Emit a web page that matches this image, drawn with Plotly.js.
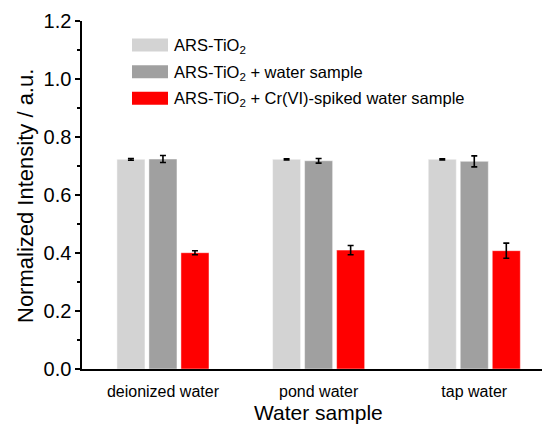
<!DOCTYPE html>
<html>
<head>
<meta charset="utf-8">
<script src="https://cdn.plot.ly/plotly-3.0.1.min.js"></script>
<style>html,body{margin:0;padding:0;background:#fff;}#chart{width:542px;height:429px;}</style>
</head>
<body>
<div id="chart"></div>
<script>
const categories = ['deionized water', 'pond water', 'tap water'];
const seriesNames = ['ARS-TiO<sub>2</sub>', 'ARS-TiO<sub>2</sub> + water sample', 'ARS-TiO<sub>2</sub> + Cr(VI)-spiked water sample'];
const arsTiO2 = [0.723, 0.723, 0.723];
const arsTiO2Err = [0.003, 0.002, 0.002];
const waterSample = [0.724, 0.718, 0.716];
const waterSampleErr = [0.012, 0.008, 0.019];
const spikedSample = [0.401, 0.410, 0.408];
const spikedSampleErr = [0.007, 0.016, 0.026];
const colors = ['#d3d3d3', '#a0a0a0', '#ff0000'];
const yTickVals = [0, 0.2, 0.4, 0.6, 0.8, 1.0, 1.2];

const FONT = 'Arial, "Liberation Sans", sans-serif';
const values = [arsTiO2, waterSample, spikedSample];
const errs = [arsTiO2Err, waterSampleErr, spikedSampleErr];

const traces = values.map((v, i) => ({
  type: 'bar',
  x: categories,
  y: v,
  name: seriesNames[i],
  marker: {color: colors[i], line: {color: 'rgba(255,255,255,0.45)', width: 1}},
  error_y: {type: 'data', array: errs[i], visible: true, color: '#000', thickness: 1.6, width: 3},
  showlegend: false
}));

const L = 82, W = 460, B = 369, H = 348;
const px = x => (x - L) / W;
const py = y => (B - y) / H;
const rowY = [45, 71.7, 98.3];

const shapes = rowY.map((r, i) => ({
  type: 'rect', xref: 'paper', yref: 'paper',
  x0: px(132), x1: px(168), y0: py(r + 6.5), y1: py(r - 6.5),
  fillcolor: colors[i], line: {width: 0}
}));

const annotations = rowY.map((r, i) => ({
  xref: 'paper', yref: 'paper', x: px(172), y: py(r + 1), xanchor: 'left', yanchor: 'middle',
  text: seriesNames[i], showarrow: false, font: {family: FONT, size: 16.5, color: '#000'}
}));
annotations.push({
  xref: 'x', yref: 'paper', x: 1, y: py(412), xanchor: 'center', yanchor: 'middle',
  text: 'Water sample', showarrow: false, font: {family: FONT, size: 21, color: '#000'}
});
annotations.push({
  xref: 'paper', yref: 'paper', x: px(25), y: py(196), xanchor: 'center', yanchor: 'middle', textangle: -90,
  text: 'Normalized Intensity / a.u.', showarrow: false, font: {family: FONT, size: 22, color: '#000'}
});

const layout = {
  width: 542, height: 429,
  margin: {l: 82, r: 0, t: 21, b: 60},
  paper_bgcolor: '#fff', plot_bgcolor: '#fff',
  barmode: 'group', bargap: 0.383, bargroupgap: 0.124,
  font: {family: FONT, color: '#000'},
  xaxis: {
    range: [-0.52, 2.435], showline: true, linecolor: '#000', linewidth: 1.6,
    ticks: '', showgrid: false, zeroline: false, ticklabelstandoff: 7,
    tickfont: {family: FONT, size: 16, color: '#000'}
  },
  yaxis: {
    range: [0, 1.2], showline: true, linecolor: '#000', linewidth: 1.6,
    ticks: 'outside', ticklen: 5, tickwidth: 1.6, tickcolor: '#000',
    tickvals: yTickVals, ticktext: yTickVals.map(v => v.toFixed(1)),
    minor: {dtick: 0.1, ticks: 'outside', ticklen: 3, tickwidth: 1.6, tickcolor: '#000', showgrid: false},
    showgrid: false, zeroline: false,
    tickfont: {family: FONT, size: 20, color: '#000'}
  },
  shapes: shapes,
  annotations: annotations,
  showlegend: false
};

Plotly.newPlot('chart', traces, layout, {displayModeBar: false, staticPlot: true});
</script>
</body>
</html>
